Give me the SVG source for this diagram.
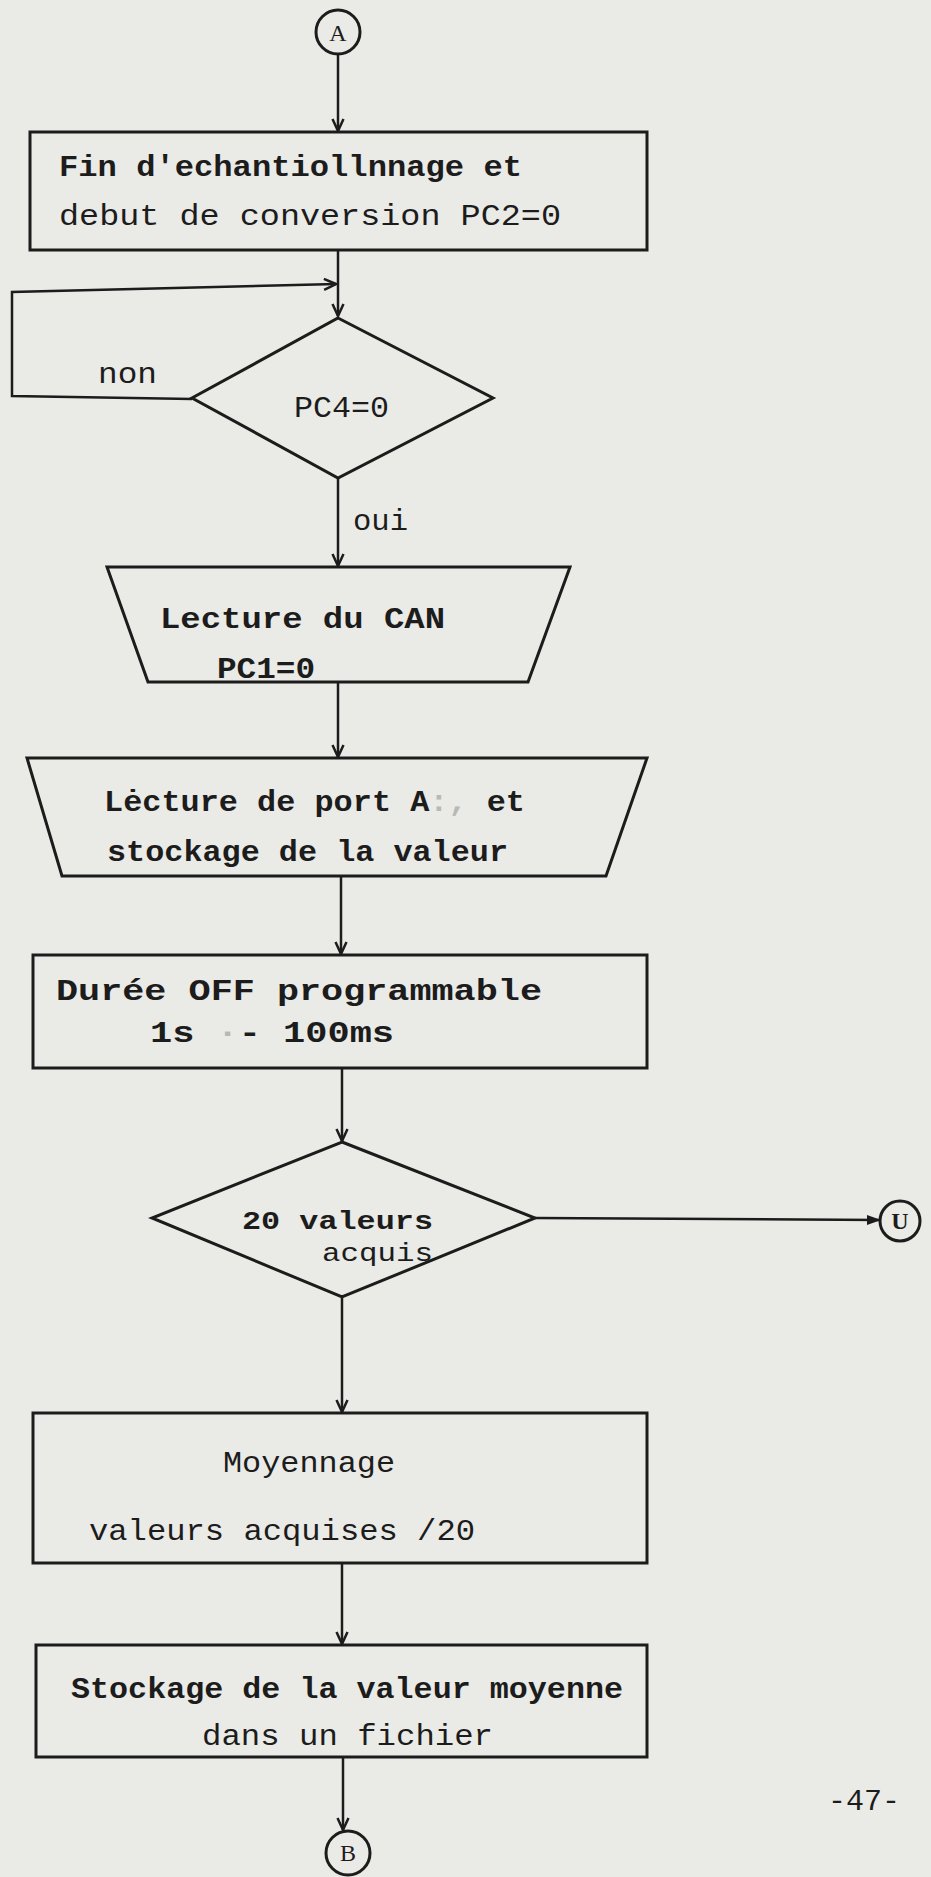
<svg xmlns="http://www.w3.org/2000/svg" width="931" height="1877" viewBox="0 0 931 1877">
<style>
.bg{fill:#eaeae6}
.shape{fill:none;stroke:#1c1c1c;stroke-width:3;stroke-linejoin:miter}
.conn{fill:none;stroke:#1c1c1c;stroke-width:2.5}
.t{font-family:"Liberation Mono","Courier New",monospace;font-size:30px;fill:#1c1c1c}
.s{font-size:26px}
.b{font-weight:bold}
.c{font-family:"Liberation Serif","Times New Roman",serif;font-size:24px;fill:#1c1c1c;text-anchor:middle}
.smudge{fill:#b8b8b4}
</style>
<defs>
<marker id="v" viewBox="0 0 14 14" refX="13" refY="7" markerWidth="14" markerHeight="14" markerUnits="userSpaceOnUse" orient="auto">
<path d="M1,1.5 L13,7 L1,12.5" fill="none" stroke="#1c1c1c" stroke-width="2.5"/>
</marker>
<marker id="f" viewBox="0 0 14 14" refX="13" refY="7" markerWidth="14" markerHeight="14" markerUnits="userSpaceOnUse" orient="auto">
<path d="M0,2 L14,7 L0,12 Z" fill="#1c1c1c"/>
</marker>
</defs>
<rect class="bg" x="0" y="0" width="931" height="1877"/>

<g id="connectors">
<path class="conn" d="M338,55 L338,131" marker-end="url(#v)"/>
<path class="conn" d="M338,251 L338,316" marker-end="url(#v)"/>
<path class="conn" d="M192,399 L12,396 L12,292 L336,284" marker-end="url(#v)"/>
<path class="conn" d="M338,478 L338,566" marker-end="url(#v)"/>
<path class="conn" d="M338,683 L338,757" marker-end="url(#v)"/>
<path class="conn" d="M341,877 L341,954" marker-end="url(#v)"/>
<path class="conn" d="M342,1069 L342,1141" marker-end="url(#v)"/>
<path class="conn" d="M535,1218 L880,1220" marker-end="url(#f)"/>
<path class="conn" d="M342,1298 L342,1412" marker-end="url(#v)"/>
<path class="conn" d="M342,1564 L342,1644" marker-end="url(#v)"/>
<path class="conn" d="M343,1758 L343,1830" marker-end="url(#v)"/>
</g>

<g id="connA">
<circle class="shape" cx="338" cy="32" r="22"/>
<text class="c" x="338" y="41">A</text>
</g>

<g id="n1">
<rect class="shape" x="30" y="132" width="617" height="118"/>
<text class="t b" x="59" y="176" textLength="463" lengthAdjust="spacingAndGlyphs">Fin d'echantiollnnage et</text>
<text class="t" x="59" y="225" textLength="502" lengthAdjust="spacingAndGlyphs">debut de conversion  PC2=0</text>
</g>

<g id="d1">
<polygon class="shape" points="338,318 493,398 338,478 192,398"/>
<text class="t" x="294" y="417" textLength="95" lengthAdjust="spacingAndGlyphs">PC4=0</text>
</g>
<text class="t" x="98" y="383" textLength="59" lengthAdjust="spacingAndGlyphs">non</text>
<text class="t" x="353" y="530" textLength="55" lengthAdjust="spacingAndGlyphs">oui</text>

<g id="n2">
<polygon class="shape" points="107,567 570,567 528,682 148,682"/>
<text class="t b" x="160" y="628" textLength="285" lengthAdjust="spacingAndGlyphs">Lecture du  CAN</text>
<text class="t b" x="217" y="678" textLength="98" lengthAdjust="spacingAndGlyphs">PC1=0</text>
</g>

<g id="n3">
<polygon class="shape" points="27,758 647,758 606,876 62,876"/>
<text class="t b" x="104" y="811" textLength="421" lengthAdjust="spacingAndGlyphs">Lėcture de port A<tspan class="smudge">:,</tspan> et</text>
<text class="t b" x="107" y="861" textLength="401" lengthAdjust="spacingAndGlyphs">stockage de la valeur</text>
</g>

<g id="n4">
<rect class="shape" x="33" y="955" width="614" height="113"/>
<text class="t b" x="56" y="1000" textLength="486" lengthAdjust="spacingAndGlyphs">Durée  OFF  programmable</text>
<text class="t b" x="150" y="1042" textLength="244" lengthAdjust="spacingAndGlyphs">1s <tspan class="smudge">·</tspan>-  100ms</text>
</g>

<g id="d2">
<polygon class="shape" points="342,1142 535,1218 342,1297 152,1218"/>
<text class="t s b" x="242" y="1229" textLength="191" lengthAdjust="spacingAndGlyphs">20 valeurs</text>
<text class="t s" x="322" y="1261" textLength="111" lengthAdjust="spacingAndGlyphs">acquis</text>
</g>

<g id="connU">
<circle class="shape" cx="900" cy="1221" r="20"/>
<text class="c b" x="900" y="1229">U</text>
</g>

<g id="n5">
<rect class="shape" x="33" y="1413" width="614" height="150"/>
<text class="t" x="223" y="1472" textLength="172" lengthAdjust="spacingAndGlyphs">Moyennage</text>
<text class="t" x="89" y="1540" textLength="386" lengthAdjust="spacingAndGlyphs">valeurs acquises /20</text>
</g>

<g id="n6">
<rect class="shape" x="36" y="1645" width="611" height="112"/>
<text class="t b" x="71" y="1698" textLength="552" lengthAdjust="spacingAndGlyphs">Stockage de la valeur moyenne</text>
<text class="t" x="202" y="1745" textLength="291" lengthAdjust="spacingAndGlyphs">dans un fichier</text>
</g>

<g id="connB">
<circle class="shape" cx="348" cy="1853" r="22"/>
<text class="c" x="348" y="1861">B</text>
</g>

<text class="t" x="828" y="1810" textLength="72" lengthAdjust="spacingAndGlyphs">-47-</text>
</svg>
